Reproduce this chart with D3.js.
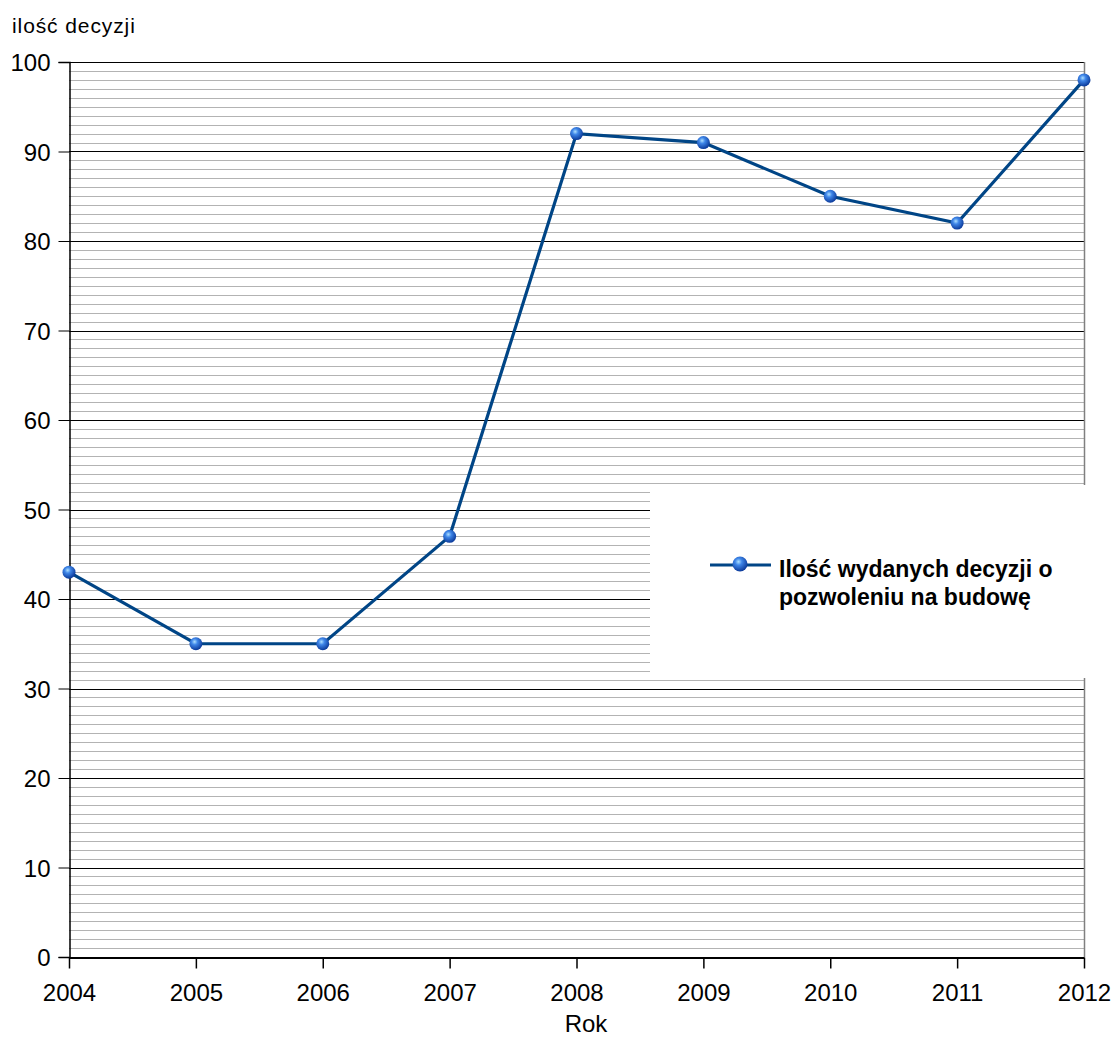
<!DOCTYPE html>
<html>
<head>
<meta charset="utf-8">
<script src="https://cdn.jsdelivr.net/npm/d3@7"></script>
<style>
body { margin: 0; background: #fff; }
text { font-family: "Liberation Sans", Arial, sans-serif; fill: #000; }
</style>
</head>
<body>
<script>
const years = [2004, 2005, 2006, 2007, 2008, 2009, 2010, 2011, 2012];
const decisions = [43, 35, 35, 47, 92, 91, 85, 82, 98];
const yTicks = [0, 10, 20, 30, 40, 50, 60, 70, 80, 90, 100];
const seriesName = ["Ilość wydanych decyzji o", "pozwoleniu na budowę"];

const width = 1115, height = 1037;
const m = { left: 69, right: 1084, top: 62, bottom: 957 };

const svg = d3.select("body").append("svg")
    .attr("width", width)
    .attr("height", height);

const defs = svg.append("defs");
const grad = defs.append("radialGradient")
    .attr("id", "ball")
    .attr("cx", "40%").attr("cy", "35%").attr("r", "65%");
grad.append("stop").attr("offset", "0%").attr("stop-color", "#aee0ff");
grad.append("stop").attr("offset", "35%").attr("stop-color", "#3f86e8");
grad.append("stop").attr("offset", "100%").attr("stop-color", "#0b3a9a");

const x = d3.scaleLinear().domain([2004, 2012]).range([m.left, m.right]);
const y = d3.scaleLinear().domain([0, 100]).range([m.bottom, m.top]);

// minor grid
const minor = d3.range(1, 100).filter(v => v % 10 !== 0);
svg.append("g").selectAll("line")
    .data(minor)
    .enter()
    .append("line")
    .attr("x1", m.left).attr("x2", m.right)
    .attr("y1", d => Math.round(y(d)) + 0.5)
    .attr("y2", d => Math.round(y(d)) + 0.5)
    .attr("stroke", "#b3b3b3");

// major grid
svg.append("g").selectAll("line")
    .data(yTicks.filter(d => d > 0))
    .enter()
    .append("line")
    .attr("x1", m.left).attr("x2", m.right)
    .attr("y1", d => Math.round(y(d)) + 0.5)
    .attr("y2", d => Math.round(y(d)) + 0.5)
    .attr("stroke", "#000");

// right border
svg.append("line")
    .attr("x1", m.right + 0.5).attr("x2", m.right + 0.5)
    .attr("y1", m.top).attr("y2", m.bottom)
    .attr("stroke", "#808080").attr("stroke-width", 1.5);

// legend background (covers grid)
svg.append("rect")
    .attr("x", 650).attr("y", 485)
    .attr("width", 440).attr("height", 193)
    .attr("fill", "#fff");

// y axis
const yAxis = svg.append("g")
    .attr("transform", `translate(${m.left + 0.5},0)`)
    .call(d3.axisLeft(y).tickValues(yTicks).tickSize(11).tickPadding(8));
yAxis.select(".domain").attr("stroke", "#000").attr("stroke-width", 1.5);
yAxis.selectAll(".tick line").attr("stroke", "#000");
yAxis.selectAll("text").attr("font-size", 24).attr("dy", "0.36em")
    .style("font-family", "Liberation Sans, Arial, sans-serif");

// x axis
const xAxis = svg.append("g")
    .attr("transform", `translate(0,${m.bottom + 0.5})`)
    .call(d3.axisBottom(x).tickValues(years).tickFormat(d3.format("d")).tickSize(11).tickSizeOuter(0).tickPadding(15));
xAxis.select(".domain").attr("stroke", "#000").attr("stroke-width", 2);
xAxis.selectAll(".tick line").attr("stroke", "#000").attr("stroke-width", 1.5);
xAxis.selectAll("text").attr("font-size", 24)
    .style("font-family", "Liberation Sans, Arial, sans-serif");

// axis titles
svg.append("text")
    .attr("x", 12).attr("y", 33)
    .attr("font-size", 21)
    .attr("letter-spacing", 0.9)
    .text("ilość decyzji");

svg.append("text")
    .attr("x", 586).attr("y", 1032)
    .attr("text-anchor", "middle")
    .attr("font-size", 24)
    .text("Rok");

// series
const line = d3.line()
    .x((d, i) => x(years[i]))
    .y(d => y(d));

svg.append("path")
    .datum(decisions)
    .attr("d", line)
    .attr("fill", "none")
    .attr("stroke", "#004586")
    .attr("stroke-width", 3.2);

svg.append("g").selectAll("circle")
    .data(decisions)
    .enter()
    .append("circle")
    .attr("cx", (d, i) => x(years[i]))
    .attr("cy", d => y(d))
    .attr("r", 6.5)
    .attr("fill", "url(#ball)");

// legend
const lg = svg.append("g");
lg.append("line")
    .attr("x1", 710).attr("x2", 771)
    .attr("y1", 565).attr("y2", 565)
    .attr("stroke", "#004586").attr("stroke-width", 3.2);
lg.append("circle")
    .attr("cx", 740).attr("cy", 564).attr("r", 7.5)
    .attr("fill", "url(#ball)");
lg.selectAll("text")
    .data(seriesName)
    .enter()
    .append("text")
    .attr("x", 779)
    .attr("y", (d, i) => 577 + i * 28)
    .attr("font-size", 23)
    .attr("font-weight", "bold")
    .text(d => d);
</script>
</body>
</html>
